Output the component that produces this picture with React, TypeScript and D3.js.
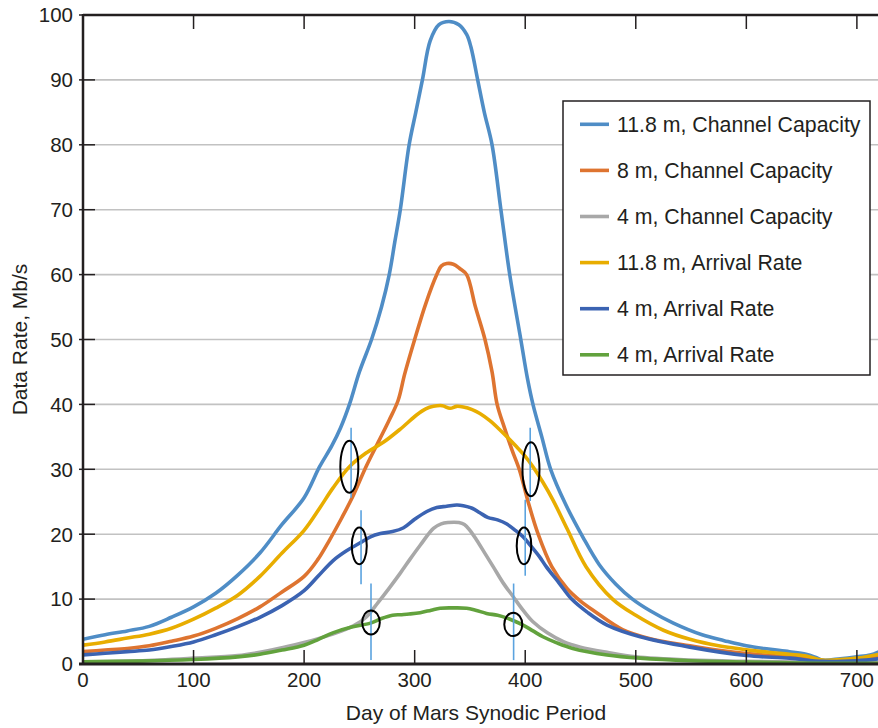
import React from "react";
import * as d3 from "d3";

// Data rate (Mb/s) over the Mars synodic period, sampled as [day, value]
const cap118: [number, number][] = [
  [0, 3.8], [20, 4.5], [40, 5.1], [60, 5.8], [80, 7.2], [100, 8.8], [120, 10.9], [140, 13.7],
  [160, 17.1], [180, 21.5], [200, 25.6], [214, 30.4], [225, 33.6], [233, 36.4], [241, 40], [250, 45],
  [261, 50], [270, 55], [277, 60], [282, 65], [287, 70], [295, 80], [301, 85], [307, 90],
  [314, 96], [322, 98.5], [331, 99], [340, 98.5], [347, 97], [351, 95], [357, 90], [363, 85],
  [370, 80], [378, 70], [386, 60], [396, 50], [402, 44], [407, 40], [415, 35], [423, 30],
  [436, 24.8], [452, 19.6], [467, 15.3], [482, 12.3], [497, 10], [513, 8.2], [534, 6.3],
  [560, 4.5], [580, 3.6], [600, 2.8], [620, 2.3], [639, 1.9], [654, 1.5], [663, 1.0],
  [669, 0.6], [685, 0.8], [700, 1.1], [712, 1.4], [720, 1.9],
];

const cap8: [number, number][] = [
  [0, 1.9], [20, 2.15], [40, 2.4], [60, 2.8], [80, 3.5], [100, 4.3], [120, 5.5], [140, 7.0],
  [160, 8.8], [180, 11.1], [200, 13.5], [212, 16], [223, 19.1], [234, 22.5], [244, 25.8],
  [256, 30.4], [268, 34.5], [277, 37.6], [285, 40.6], [291, 44.7], [300, 50], [310, 55.5],
  [320, 60], [324, 61.3], [329, 61.7], [335, 61.6], [341, 60.9], [347, 60], [355, 55],
  [363.6, 50], [370, 45], [374.6, 40], [381, 36.5], [388, 33], [395, 29.8], [402.6, 25],
  [411.7, 20], [424, 15], [438, 11.6], [450, 9.7], [463, 8.1], [488, 5.3], [513, 3.9],
  [549, 2.8], [575, 2.1], [600, 1.6], [639, 1.1], [669, 0.5], [700, 0.7], [720, 1.2],
];

const cap4: [number, number][] = [
  [0, 0.35], [50, 0.5], [100, 0.9], [140, 1.3], [160, 1.8], [180, 2.5], [200, 3.3], [226, 4.6],
  [245, 5.9], [256, 7.2], [267, 9.5], [277, 11.7], [287, 14], [296, 16.2], [305, 18.3],
  [317, 20.9], [324, 21.6], [330, 21.8], [340, 21.8], [345, 21.5], [350, 20.6], [356, 19.1],
  [363, 17.2], [371, 15], [380, 12.5], [389, 10.4], [398, 8.3], [407, 6.5], [420, 4.8],
  [435, 3.4], [450, 2.6], [474, 1.8], [500, 1.1], [550, 0.6], [600, 0.4], [700, 0.2], [720, 0.2],
];

const arr118: [number, number][] = [
  [0, 2.9], [20, 3.4], [40, 4.0], [60, 4.6], [80, 5.5], [100, 6.9], [120, 8.6], [140, 10.6],
  [160, 13.5], [180, 17.1], [200, 20.6], [214, 24], [226, 27.1], [241, 30.4], [256, 32.5],
  [272, 34.2], [287, 36.2], [302, 38.4], [310, 39.3], [317, 39.7], [325, 39.8], [332, 39.4],
  [338, 39.7], [344, 39.6], [352, 39.2], [359, 38.6], [368, 37.5], [377, 36.1], [392, 33.5],
  [400, 32], [407, 30.4], [416, 28], [425, 25.3], [438, 20.8], [455, 15], [479, 10], [500, 7.5],
  [525, 5.2], [549, 3.8], [575, 2.8], [600, 2.2], [620, 1.8], [639, 1.5], [655, 1.2],
  [669, 0.6], [700, 0.9], [720, 1.5],
];

const arr4a: [number, number][] = [
  [0, 1.4], [20, 1.65], [40, 1.9], [60, 2.15], [80, 2.7], [100, 3.4], [120, 4.5], [140, 5.75],
  [160, 7.2], [180, 9.0], [200, 11.3], [213, 13.6], [226, 15.9], [238, 17.4], [250, 18.6],
  [260, 19.6], [269, 20.1], [280, 20.4], [290, 21], [300, 22.3], [311, 23.5], [320, 24.1],
  [329, 24.3], [338, 24.5], [344, 24.4], [352, 24], [359, 23.3], [366, 22.6], [375, 22.2],
  [383, 21.6], [391, 20.6], [398, 19.6], [405, 18.2], [413, 16.5], [419, 15], [431, 12.4],
  [442, 10], [456, 8.0], [474, 6], [504, 4.2], [549, 2.6], [600, 1.3], [639, 0.9], [669, 0.4],
  [700, 0.5], [720, 0.8],
];

const arr4b: [number, number][] = [
  [0, 0.35], [50, 0.45], [100, 0.7], [140, 1.1], [160, 1.5], [180, 2.15], [200, 2.9],
  [213, 3.8], [226, 4.8], [243, 5.7], [260, 6.3], [270, 7.0], [280, 7.5], [287, 7.6],
  [295, 7.7], [305, 7.9], [315, 8.3], [323, 8.6], [335, 8.65], [347, 8.6], [355, 8.3],
  [365, 7.8], [375, 7.5], [383, 7.1], [389, 6.7], [398, 6.0], [407, 5.1], [416, 4.2],
  [428, 3.3], [443, 2.4], [474, 1.4], [504, 0.9], [550, 0.5], [600, 0.3], [650, 0.15],
  [700, 0.1], [720, 0.1],
];

const seriesNames = [
  "11.8 m, Channel Capacity",
  "8 m, Channel Capacity",
  "4 m, Channel Capacity",
  "11.8 m, Arrival Rate",
  "4 m, Arrival Rate",
  "4 m, Arrival Rate",
];
const seriesData = [cap118, cap8, cap4, arr118, arr4a, arr4b];
const seriesColors = ["#4f8dc6", "#de7430", "#a8a8a8", "#e8ad00", "#3b63b2", "#62a23d"];

// Crossing markers: ellipse centre [day, value] and the vertical tick [day, top, bottom]
const crossings: [number, number][] = [
  [240.9, 30.4], [249.9, 18.2], [260.5, 6.4], [405.2, 30.0], [398.9, 18.2], [389.2, 6.1],
];
const crossingSize: [number, number][] = [
  [9, 26], [7.5, 18.3], [8.8, 12], [8.5, 27], [7.3, 18.3], [9, 11.7],
];
const markerLines: [number, number, number][] = [
  [242.5, 36.4, 25.6], [251.5, 23.7, 12.3], [260.5, 12.4, 0.6],
  [404.5, 36.4, 25.1], [400, 25.3, 13.6], [389.5, 12.4, 0.6],
];

const xTicks = [0, 100, 200, 300, 400, 500, 600, 700];
const yTicks = [0, 10, 20, 30, 40, 50, 60, 70, 80, 90, 100];

const W = 878;
const H = 728;
const left = 83;
const right = 879;
const top = 15;
const bottom = 664;
const ink = "#231f20";
const font = "'Liberation Sans', Arial, Helvetica, sans-serif";

export default function App() {
  const x = d3.scaleLinear().domain([0, 720]).range([left, right]);
  const y = d3.scaleLinear().domain([0, 100]).range([bottom, top]);
  const line = d3
    .line<[number, number]>()
    .x((d) => x(d[0]))
    .y((d) => y(d[1]))
    .curve(d3.curveCatmullRom.alpha(0.5));

  const legendX = 563;
  const legendY = 101;
  const rowGap = 46.1;

  return (
    <svg
      width={W}
      height={H}
      style={{ position: "absolute", left: 0, top: 0, display: "block", background: "#fff" }}
      fontFamily={font}
    >
      <defs>
        <clipPath id="plot">
          <rect x={left} y={top - 5} width={right - left} height={bottom - top + 5} />
        </clipPath>
      </defs>

      {/* gridlines */}
      {yTicks.filter((t) => t > 0 && t < 100).map((t) => (
        <line key={"g" + t} x1={left} x2={W} y1={y(t)} y2={y(t)} stroke="#c2c2c2" strokeWidth={1.6} />
      ))}

      {/* series */}
      <g clipPath="url(#plot)">
        {seriesData.map((s, i) => (
          <path
            key={"s" + i}
            d={line(s) || ""}
            fill="none"
            stroke={seriesColors[i]}
            strokeWidth={3.6}
            strokeLinejoin="round"
            strokeLinecap="round"
          />
        ))}
      </g>

      {/* crossing markers */}
      {markerLines.map((m, i) => (
        <line key={"m" + i} x1={x(m[0])} x2={x(m[0])} y1={y(m[1])} y2={y(m[2])} stroke="#5ba3df" strokeWidth={1.6} />
      ))}
      {crossings.map((c, i) => (
        <ellipse
          key={"e" + i}
          cx={x(c[0])}
          cy={y(c[1])}
          rx={crossingSize[i][0]}
          ry={crossingSize[i][1]}
          fill="none"
          stroke="#000"
          strokeWidth={2}
        />
      ))}

      {/* frame */}
      <line x1={left} x2={W} y1={top} y2={top} stroke={ink} strokeWidth={2.5} />
      <line x1={left} x2={left} y1={top - 1} y2={bottom + 1} stroke={ink} strokeWidth={2.5} />
      <line x1={left - 4} x2={W} y1={bottom} y2={bottom} stroke={ink} strokeWidth={3} />

      {/* x ticks, bottom and top */}
      {xTicks.filter((t) => t > 0).map((t) => (
        <g key={"xt" + t}>
          <line x1={x(t)} x2={x(t)} y1={bottom} y2={bottom - 14} stroke={ink} strokeWidth={1.5} />
          <line x1={x(t)} x2={x(t)} y1={top} y2={top + 14} stroke={ink} strokeWidth={1.5} />
        </g>
      ))}
      {xTicks.map((t) => (
        <text key={"xl" + t} x={x(t)} y={687} textAnchor="middle" fontSize={20.5} fill={ink}>
          {t}
        </text>
      ))}

      {/* y ticks */}
      {yTicks.map((t) => (
        <line
          key={"yt" + t}
          x1={left - 4}
          x2={t > 0 && t < 100 ? left + 12 : left}
          y1={y(t)}
          y2={y(t)}
          stroke={ink}
          strokeWidth={1.5}
        />
      ))}
      {yTicks.map((t) => (
        <text key={"yl" + t} x={73} y={y(t) + 7.3} textAnchor="end" fontSize={20.5} fill={ink}>
          {t}
        </text>
      ))}

      {/* axis titles */}
      <text x={(left + right) / 2 - 5} y={720} textAnchor="middle" fontSize={21} fill={ink}>
        Day of Mars Synodic Period
      </text>
      <text
        transform={`translate(27, ${(top + bottom) / 2}) rotate(-90)`}
        textAnchor="middle"
        fontSize={21}
        fill={ink}
      >
        Data Rate, Mb/s
      </text>

      {/* legend */}
      <rect x={legendX} y={legendY} width={307} height={274} fill="#fff" stroke={ink} strokeWidth={1.5} />
      {seriesNames.map((name, i) => {
        const cy = legendY + 23.3 + i * rowGap;
        return (
          <g key={"lg" + i}>
            <line x1={580} x2={609} y1={cy} y2={cy} stroke={seriesColors[i]} strokeWidth={3.6} />
            <text x={617} y={cy + 7.5} fontSize={21.3} fill={ink}>
              {name}
            </text>
          </g>
        );
      })}
    </svg>
  );
}
